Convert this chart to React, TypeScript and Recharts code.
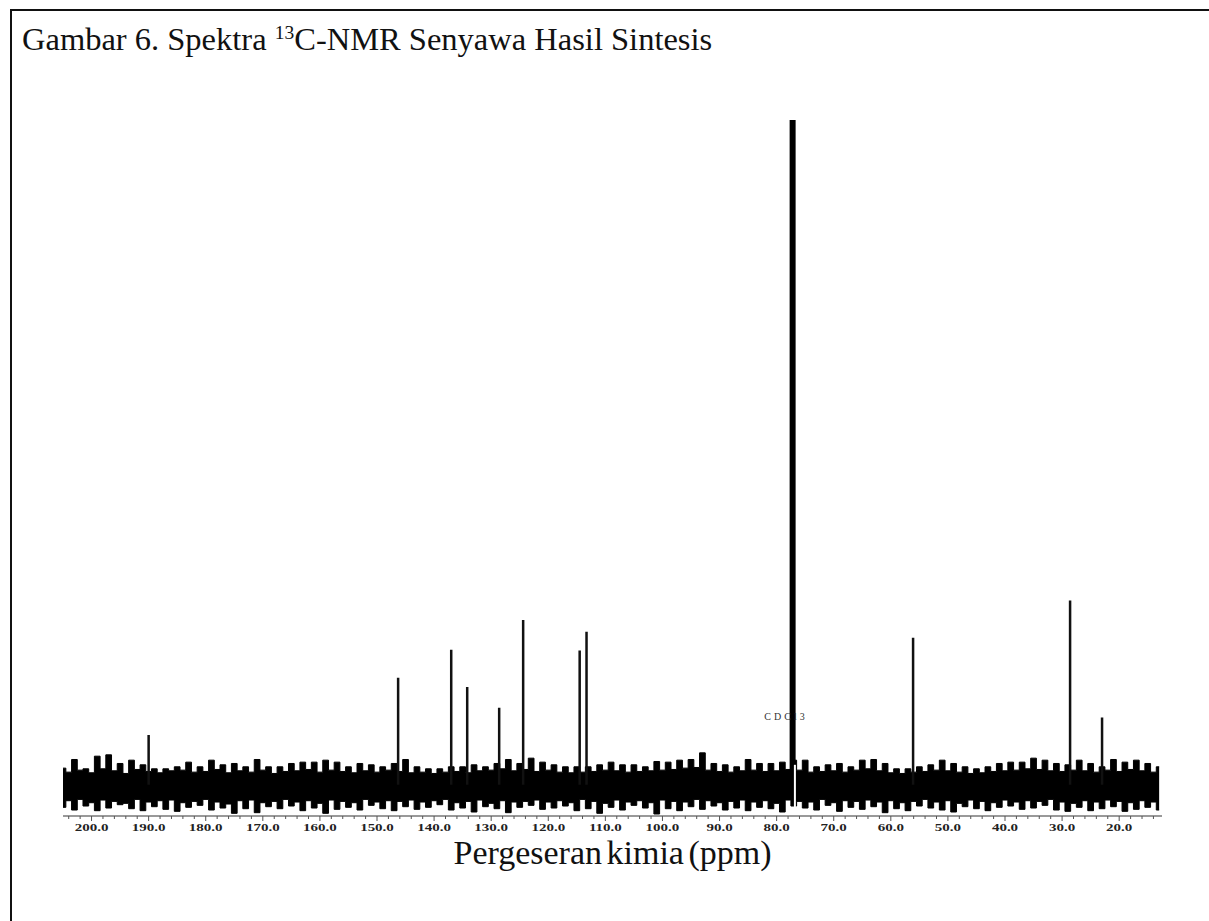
import { ComposedChart, Area, Line, XAxis, YAxis } from 'recharts'

// baseline noise, spike tips read at odd ppm (arbitrary intensity units)
const noisePpm = [
  205, 203, 201, 199, 197, 195, 193, 191, 189, 187,
  185, 183, 181, 179, 177, 175, 173, 171, 169, 167,
  165, 163, 161, 159, 157, 155, 153, 151, 149, 147,
  145, 143, 141, 139, 137, 135, 133, 131, 129, 127,
  125, 123, 121, 119, 117, 115, 113, 111, 109, 107,
  105, 103, 101, 99, 97, 95, 93, 91, 89, 87,
  85, 83, 81, 79, 77, 75, 73, 71, 69, 67,
  65, 63, 61, 59, 57, 55, 53, 51, 49, 47,
  45, 43, 41, 39, 37, 35, 33, 31, 29, 27,
  25, 23, 21, 19, 17, 15, 13,
]
const noiseHigh = [
  2.5, 3.8, 2.4, 4.3, 4.5, 3.2, 3.7, 3.0, 2.4, 2.4,
  2.7, 3.4, 2.7, 3.7, 3.0, 3.2, 2.7, 3.8, 2.7, 2.7,
  3.2, 3.4, 3.4, 3.7, 3.4, 2.7, 3.2, 3.0, 2.7, 3.2,
  3.8, 2.7, 2.4, 2.4, 2.7, 2.7, 3.0, 2.7, 3.2, 3.8,
  3.2, 4.0, 3.4, 3.0, 2.7, 2.7, 2.7, 3.0, 3.4, 3.0,
  3.0, 2.7, 3.5, 3.4, 3.7, 3.8, 4.8, 3.2, 3.0, 2.7,
  3.8, 3.2, 3.2, 3.4, 3.7, 3.7, 2.7, 3.0, 3.2, 2.7,
  3.7, 3.8, 3.2, 2.4, 2.4, 2.7, 3.0, 3.7, 3.2, 2.7,
  2.4, 2.7, 3.2, 3.4, 3.4, 4.0, 3.7, 3.2, 3.0, 3.7,
  3.2, 2.7, 3.8, 3.4, 3.7, 3.2, 2.7,
]
const noiseLow = [
  -3.4, -3.8, -3.2, -3.9, -3.5, -3.0, -3.6, -3.9, -3.3, -3.7,
  -4.0, -3.4, -3.1, -3.8, -3.5, -4.3, -3.6, -4.2, -3.3, -3.6,
  -3.2, -3.9, -3.5, -4.3, -3.7, -3.4, -3.8, -3.1, -3.6, -3.9,
  -3.3, -3.7, -3.4, -3.0, -3.8, -3.5, -4.1, -3.3, -3.6, -4.2,
  -3.4, -3.1, -3.7, -3.5, -3.2, -3.9, -3.6, -4.3, -3.4, -3.8,
  -3.1, -3.5, -4.4, -3.6, -3.9, -3.3, -3.7, -3.2, -3.8, -3.5,
  -3.9, -3.4, -3.6, -4.1, -3.2, -3.5, -3.8, -3.1, -4.0, -3.4,
  -3.7, -3.3, -4.2, -3.6, -3.9, -3.2, -3.5, -3.8, -4.1, -3.3,
  -3.6, -3.9, -3.4, -3.2, -3.7, -3.5, -3.1, -3.8, -4.0, -3.4,
  -3.9, -3.6, -3.3, -4.0, -3.7, -3.4, -3.8,
]

// band core between the spikes, read at even ppm
const corePpm = [
  204, 202, 200, 198, 196, 194, 192, 190, 188, 186,
  184, 182, 180, 178, 176, 174, 172, 170, 168, 166,
  164, 162, 160, 158, 156, 154, 152, 150, 148, 146,
  144, 142, 140, 138, 136, 134, 132, 130, 128, 126,
  124, 122, 120, 118, 116, 114, 112, 110, 108, 106,
  104, 102, 100, 98, 96, 94, 92, 90, 88, 86,
  84, 82, 80, 78, 76, 74, 72, 70, 68, 66,
  64, 62, 60, 58, 56, 54, 52, 50, 48, 46,
  44, 42, 40, 38, 36, 34, 32, 30, 28, 26,
  24, 22, 20, 18, 16, 14,
]
const coreHigh = [
  1.9, 2.2, 1.8, 2.4, 2.1, 1.7, 2.3, 2.0, 1.8, 2.1,
  2.2, 1.9, 2.0, 2.3, 1.8, 2.1, 1.9, 2.2, 1.7, 2.0,
  2.1, 2.3, 1.9, 2.2, 2.0, 1.8, 2.1, 1.9, 2.2, 2.0,
  1.8, 1.9, 1.7, 1.9, 2.0, 1.8, 2.1, 2.2, 2.4, 2.1,
  2.3, 2.0, 2.2, 1.9, 1.8, 1.9, 2.0, 2.2, 2.1, 1.9,
  2.0, 2.1, 2.2, 2.3, 2.5, 2.6, 2.2, 2.0, 1.9, 2.1,
  2.2, 2.0, 2.1, 2.3, 2.2, 1.9, 2.0, 2.1, 1.9, 2.2,
  2.4, 2.1, 1.8, 1.7, 1.9, 2.0, 2.2, 2.1, 1.9, 1.7,
  1.8, 2.0, 2.1, 2.2, 2.4, 2.3, 2.1, 2.0, 2.2, 2.1,
  1.9, 2.2, 2.0, 2.3, 2.1, 1.9,
]
const coreLow = [
  -2.4, -2.2, -2.7, -2.3, -2.5, -2.8, -2.2, -2.6, -2.4, -2.3,
  -2.7, -2.5, -2.2, -2.6, -2.9, -2.4, -2.3, -2.7, -2.5, -2.2,
  -2.6, -2.4, -2.8, -2.3, -2.5, -2.7, -2.2, -2.6, -2.4, -2.5,
  -2.3, -2.6, -2.4, -2.2, -2.7, -2.5, -2.3, -2.8, -2.4, -2.6,
  -2.5, -2.3, -2.6, -2.4, -2.7, -2.2, -2.5, -2.8, -2.3, -2.6,
  -2.4, -2.7, -2.3, -2.5, -2.6, -2.2, -2.4, -2.7, -2.5, -2.3,
  -2.6, -2.4, -2.8, -2.3, -2.5, -2.6, -2.2, -2.7, -2.4, -2.5,
  -2.3, -2.6, -2.4, -2.7, -2.5, -2.2, -2.6, -2.4, -2.8, -2.3,
  -2.5, -2.7, -2.3, -2.6, -2.4, -2.5, -2.2, -2.6, -2.8, -2.4,
  -2.6, -2.3, -2.5, -2.7, -2.4, -2.6,
]

// product peaks (ppm, height)
const peakPpm = [190.0, 146.3, 137.0, 134.2, 128.6, 124.4, 114.5, 113.3, 56.1, 28.6, 23.0]
const peakHeight = [7.5, 16.1, 20.3, 14.7, 11.6, 24.8, 20.2, 23.0, 22.1, 27.7, 10.1]

// solvent signal
const solventPpm = 77.2
const solventHeight = 100
const solventGapPpm = 76.8
const solventGap = [-4.7, 3.0]
const solventLabel = 'CDCl3'

const majorTicks = [200, 190, 180, 170, 160, 150, 140, 130, 120, 110, 100, 90, 80, 70, 60, 50, 40, 30, 20]
const minorTicks = Array.from({ length: 96 }, (_, i) => 204 - i * 2)

const noiseData = [
  ...noisePpm.map((ppm, i) => ({ ppm, band: [noiseLow[i], noiseHigh[i]] })),
  ...corePpm.map((ppm, i) => ({ ppm, band: [coreLow[i], coreHigh[i]] })),
].sort((a, b) => b.ppm - a.ppm)

const peakData = peakPpm.flatMap((ppm, i) => [
  { ppm, v: 0 },
  { ppm, v: peakHeight[i] },
  { ppm, v: null },
])
const solventData = [
  { ppm: solventPpm, v: 0 },
  { ppm: solventPpm, v: solventHeight },
]
const gapData = solventGap.map((v) => ({ ppm: solventGapPpm, v }))

function AxisTick({ x, y, payload }: any) {
  const major = majorTicks.includes(payload.value)
  return (
    <g>
      <line x1={x} x2={x} y1={y} y2={y + (major ? 5 : 3)} stroke="#555" strokeWidth={1} />
      {major && (
        <text
          transform={`translate(${x},${y + 15}) scale(1.5,1)`}
          textAnchor="middle"
          fontFamily="'Liberation Serif', serif"
          fontWeight="bold"
          fontSize={10}
          fill="#222"
        >
          {payload.value.toFixed(1)}
        </text>
      )}
    </g>
  )
}

export default function App() {
  return (
    <div style={{ position: 'absolute', left: 0, top: 0, width: 1209, height: 921, background: '#fff' }}>
      <div
        style={{
          position: 'absolute',
          left: 10,
          top: 9,
          width: 1199,
          height: 912,
          borderTop: '2px solid #111',
          borderLeft: '2px solid #111',
        }}
      />
      <div
        style={{
          position: 'absolute',
          left: 22,
          top: 17,
          fontFamily: "'Liberation Serif', serif",
          fontSize: 32.5,
          lineHeight: '32px',
          color: '#111',
          whiteSpace: 'nowrap',
        }}
      >
        Gambar 6. Spektra <sup style={{ fontSize: '0.6em', verticalAlign: '0.55em' }}>13</sup>C-NMR Senyawa Hasil Sintesis
      </div>

      <ComposedChart
        width={1209}
        height={921}
        margin={{ top: 120, right: 47, left: 63, bottom: 75 }}
        style={{ position: 'absolute', left: 0, top: 0 }}
      >
        <XAxis
          dataKey="ppm"
          type="number"
          domain={[12.5, 205]}
          reversed
          allowDataOverflow
          ticks={minorTicks}
          interval={0}
          tick={<AxisTick />}
          tickLine={false}
          tickSize={0}
          tickMargin={0}
          axisLine={{ stroke: '#777', strokeWidth: 1.5 }}
          height={30}
        />
        <YAxis hide type="number" domain={[-4.7, 100]} allowDataOverflow />
        <Area
          data={noiseData}
          dataKey="band"
          type="step"
          stroke="#000"
          strokeWidth={1}
          fill="#000"
          fillOpacity={1}
          isAnimationActive={false}
          dot={false}
          activeDot={false}
        />
        <Line
          data={peakData}
          dataKey="v"
          stroke="#111"
          strokeWidth={2.5}
          dot={false}
          activeDot={false}
          connectNulls={false}
          isAnimationActive={false}
        />
        <Line
          data={solventData}
          dataKey="v"
          stroke="#000"
          strokeWidth={6}
          dot={false}
          activeDot={false}
          isAnimationActive={false}
        />
        <Line
          data={gapData}
          dataKey="v"
          stroke="#fff"
          strokeWidth={2}
          dot={false}
          activeDot={false}
          isAnimationActive={false}
        />
      </ComposedChart>

      <div
        style={{
          position: 'absolute',
          left: 756,
          top: 711,
          width: 60,
          textAlign: 'center',
          fontFamily: "'Liberation Serif', serif",
          fontSize: 10,
          letterSpacing: 3,
          color: '#333',
        }}
      >
        {solventLabel}
      </div>

      <div
        style={{
          position: 'absolute',
          left: 63,
          top: 838,
          width: 1099,
          textAlign: 'center',
          fontFamily: "'Liberation Serif', serif",
          fontSize: 34,
          lineHeight: '30px',
          wordSpacing: -4,
          color: '#111',
        }}
      >
        Pergeseran kimia (ppm)
      </div>
    </div>
  )
}
